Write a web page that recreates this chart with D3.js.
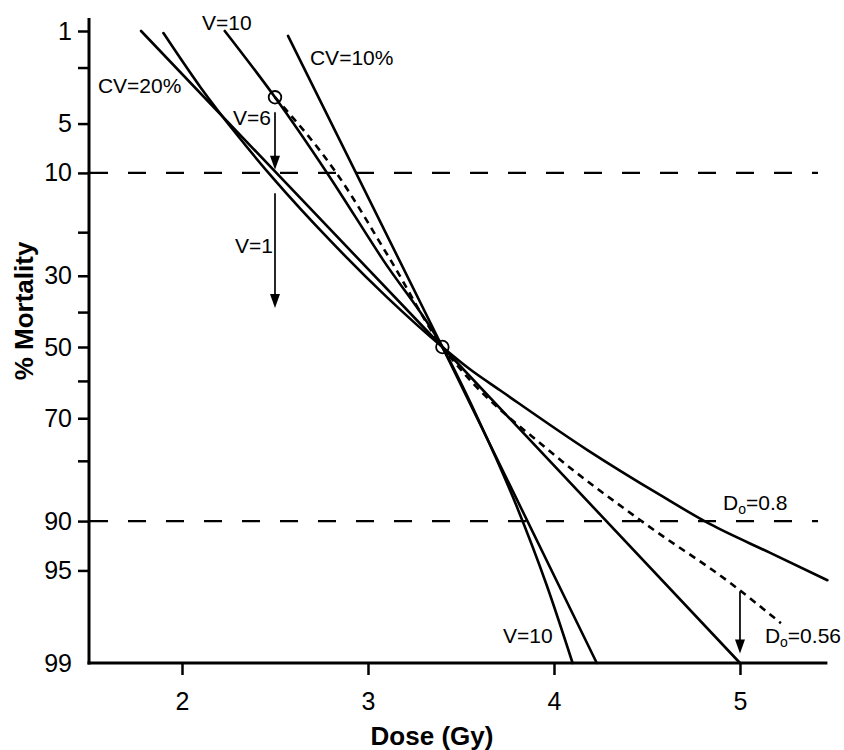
<!DOCTYPE html>
<html><head><meta charset="utf-8">
<script src="https://cdn.jsdelivr.net/npm/d3@7"></script>
<style>
html,body{margin:0;padding:0;background:#fff;}
svg{display:block;font-family:"Liberation Sans",Arial,Helvetica,sans-serif;}
</style></head><body>
<svg id="chart" width="844" height="750"></svg>
<script>
// ---------- data (dose in Gy, mortality in %) ----------
const yTickLabels = [1, 5, 10, 30, 50, 70, 90, 95, 99];
const yMinorTicks = [2, 20, 40, 60, 80];
const xTicks = [2, 3, 4, 5];
const refLevels = [10, 90];
const cv20 = [[1.78, 1], [3.40, 50], [5.00, 99]];
const cv10 = [[2.57, 1.1], [3.40, 50], [4.23, 99]];
const v10 = [[2.23, 1.0], [2.50, 3.3], [2.78, 10], [3.08, 26], [3.40, 50], [3.59, 70], [3.80, 88], [3.96, 96], [4.10, 99]];
const d08 = [[1.90, 1.04], [2.10, 2.8], [2.30, 6.0], [2.50, 11.0], [2.80, 21.8], [3.10, 35.6], [3.40, 50], [3.55, 56.6], [3.71, 62.5], [4.18, 77.6], [4.57, 86.2], [4.84, 90.4], [5.16, 93.5], [5.47, 95.7]];
const d056 = [[2.50, 3.3], [2.83, 10], [3.12, 26], [3.40, 50], [3.51, 57.3], [3.97, 77.6], [4.50, 90.5], [4.95, 95.9], [5.22, 97.9]];
const markers = [[2.50, 3.3], [3.40, 50]];
const arrows = [[2.5, 4.2, 9.6], [2.5, 12.9, 38.7], [5.0, 96.4, 98.8]]; // dose, from %, to %
const labelText = ["V=10", "CV=10%", "CV=20%", "V=6", "V=1", "V=10"];
const labelAt = [[2.108, 0.98], [2.688, 1.9], [1.548, 3.07], [2.274, 5.11], [2.285, 24.4], [3.726, 98.53]];
const doLabelText = ["=0.8", "=0.56"];
const doLabelAt = [[4.909, 88.5], [5.134, 98.53]];

// ---------- probit transform ----------
function probit(p) {
  const a=[-3.969683028665376e+01,2.209460984245205e+02,-2.759285104469687e+02,1.383577518672690e+02,-3.066479806614716e+01,2.506628277459239e+00];
  const b=[-5.447609879822406e+01,1.615858368580409e+02,-1.556989798598866e+02,6.680131188771972e+01,-1.328068155288572e+01];
  const c=[-7.784894002430293e-03,-3.223964580411365e-01,-2.400758277161838e+00,-2.549732539343734e+00,4.374664141464968e+00,2.938163982698783e+00];
  const d=[7.784695709041462e-03,3.224671290700398e-01,2.445134137142996e+00,3.754408661907416e+00];
  const pl = 0.02425, ph = 1 - pl; let q, r;
  if (p < pl) { q = Math.sqrt(-2*Math.log(p)); return (((((c[0]*q+c[1])*q+c[2])*q+c[3])*q+c[4])*q+c[5])/((((d[0]*q+d[1])*q+d[2])*q+d[3])*q+1); }
  if (p <= ph) { q = p - 0.5; r = q*q; return (((((a[0]*r+a[1])*r+a[2])*r+a[3])*r+a[4])*r+a[5])*q/(((((b[0]*r+b[1])*r+b[2])*r+b[3])*r+b[4])*r+1); }
  q = Math.sqrt(-2*Math.log(1-p)); return -(((((c[0]*q+c[1])*q+c[2])*q+c[3])*q+c[4])*q+c[5])/((((d[0]*q+d[1])*q+d[2])*q+d[3])*q+1);
}

// ---------- scales ----------
const svg = d3.select("#chart");
const x = d3.scaleLinear().domain([1.5, 5.47]).range([89, 827.4]);
const yz = d3.scaleLinear().domain([probit(0.01), probit(0.99)]).range([31, 663]);
const y = p => yz(probit(p / 100));
const axisTop = 18, axisBottomY = 663, axisLeftX = 89;

// ---------- reference dashed lines ----------
svg.append("g").selectAll("line").data(refLevels).join("line")
  .attr("x1", axisLeftX + 1).attr("x2", 818)
  .attr("y1", d => y(d)).attr("y2", d => y(d))
  .attr("stroke", "#000").attr("stroke-width", 2.2)
  .attr("stroke-dasharray", "18,20");

// ---------- axes ----------
const yAxis = d3.axisLeft(yz)
  .tickValues(yTickLabels.map(p => probit(p / 100)))
  .tickFormat((d, i) => yTickLabels[i])
  .tickSize(11).tickPadding(6);
const gy = svg.append("g").attr("transform", `translate(${axisLeftX},0)`).call(yAxis);
gy.select(".domain").remove();
gy.selectAll(".tick line").attr("stroke", "#000").attr("stroke-width", 2.5)
  .attr("display", (d, i) => yTickLabels[i] === 99 ? "none" : null);
gy.selectAll(".tick text").attr("font-size", 25).attr("fill", "#000")
  .attr("font-family", "'Liberation Sans', Arial, sans-serif");
svg.append("g").attr("transform", `translate(${axisLeftX},0)`)
  .selectAll("line").data(yMinorTicks).join("line")
  .attr("x1", -11).attr("x2", 0)
  .attr("y1", d => y(d)).attr("y2", d => y(d))
  .attr("stroke", "#000").attr("stroke-width", 2.5);
svg.append("line").attr("x1", axisLeftX).attr("x2", axisLeftX)
  .attr("y1", axisTop).attr("y2", axisBottomY + 1.5)
  .attr("stroke", "#000").attr("stroke-width", 3);

const xAxis = d3.axisBottom(x).tickValues(xTicks).tickFormat(d3.format("d"))
  .tickSize(12).tickPadding(17);
const gx = svg.append("g").attr("transform", `translate(0,${axisBottomY})`).call(xAxis);
gx.select(".domain").remove();
gx.selectAll(".tick line").attr("stroke", "#000").attr("stroke-width", 2.5);
gx.selectAll(".tick text").attr("font-size", 25).attr("fill", "#000")
  .attr("font-family", "'Liberation Sans', Arial, sans-serif");
svg.append("line").attr("x1", axisLeftX - 1.5).attr("x2", x(5.47))
  .attr("y1", axisBottomY).attr("y2", axisBottomY)
  .attr("stroke", "#000").attr("stroke-width", 3);

// axis titles
svg.append("text").attr("transform", "translate(33,311) rotate(-90)")
  .attr("text-anchor", "middle").attr("font-weight", "bold").attr("font-size", 26)
  .text("% Mortality");
svg.append("text").attr("x", 432).attr("y", 745)
  .attr("text-anchor", "middle").attr("font-weight", "bold").attr("font-size", 26)
  .text("Dose (Gy)");

// ---------- curves ----------
const lineLin = d3.line().x(d => x(d[0])).y(d => y(d[1]));
const lineSmooth = d3.line().x(d => x(d[0])).y(d => y(d[1])).curve(d3.curveMonotoneX);
const solid = [[cv20, lineLin], [cv10, lineLin], [v10, lineSmooth], [d08, lineSmooth]];
svg.append("g").selectAll("path").data(solid).join("path")
  .attr("d", d => d[1](d[0]))
  .attr("fill", "none").attr("stroke", "#000").attr("stroke-width", 2.6)
  .attr("stroke-linecap", "round").attr("stroke-linejoin", "round");
svg.append("path").attr("d", lineSmooth(d056))
  .attr("fill", "none").attr("stroke", "#000").attr("stroke-width", 2.6)
  .attr("stroke-dasharray", "7,5.5");

// markers
svg.append("g").selectAll("circle").data(markers).join("circle")
  .attr("cx", d => x(d[0])).attr("cy", d => y(d[1])).attr("r", 6.3)
  .attr("fill", "none").attr("stroke", "#000").attr("stroke-width", 1.8);

// arrows
const ga = svg.append("g");
arrows.forEach(a => {
  const ax = x(a[0]), y0 = y(a[1]), y1 = y(a[2]);
  ga.append("line").attr("x1", ax).attr("x2", ax).attr("y1", y0).attr("y2", y1 - 8)
    .attr("stroke", "#000").attr("stroke-width", 1.7);
  ga.append("path").attr("d", `M${ax - 5},${y1 - 14} L${ax + 5},${y1 - 14} L${ax},${y1} Z`)
    .attr("fill", "#000");
});

// labels
svg.append("g").selectAll("text").data(labelText).join("text")
  .attr("x", (d, i) => x(labelAt[i][0])).attr("y", (d, i) => y(labelAt[i][1]))
  .attr("font-size", 21).attr("fill", "#000").text(d => d);
doLabelText.forEach((t, i) => {
  const tx = svg.append("text").attr("x", x(doLabelAt[i][0])).attr("y", y(doLabelAt[i][1]))
    .attr("font-size", 21).attr("fill", "#000");
  tx.append("tspan").text("D");
  tx.append("tspan").attr("font-size", 14).attr("dy", 4).text("o");
  tx.append("tspan").attr("dy", -4).text(t);
});
</script>
</body></html>
